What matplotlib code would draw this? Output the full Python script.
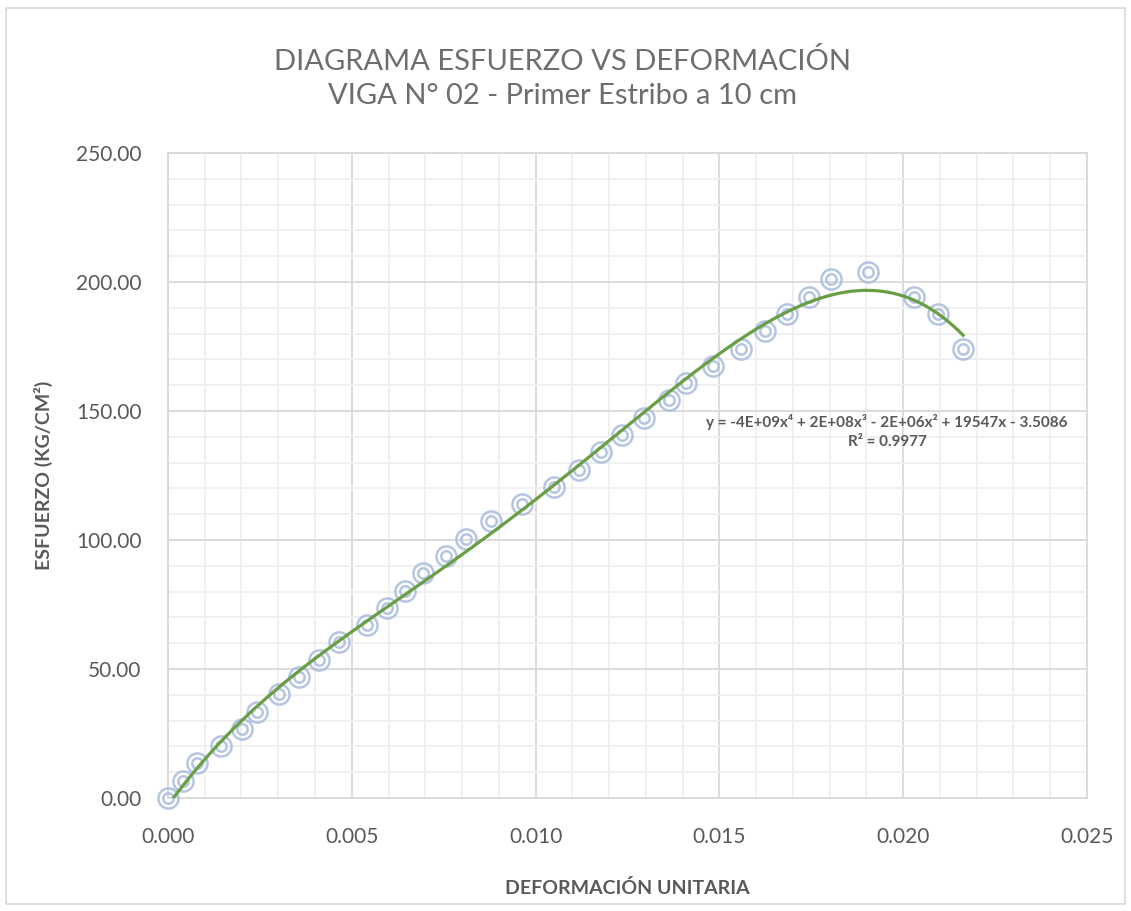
import numpy as np
import matplotlib
matplotlib.use('Agg')
import matplotlib.pyplot as plt
from matplotlib.patches import Rectangle
from matplotlib.ticker import MultipleLocator, FormatStrFormatter

plt.rcParams['font.family'] = ['Lato', 'DejaVu Sans']

# Datos (deformacion unitaria vs esfuerzo kg/cm2)
deformacion = [0.00000, 0.00041, 0.00080, 0.00143, 0.00202, 0.00243, 0.00302,
               0.00356, 0.00411, 0.00465, 0.00542, 0.00595, 0.00644, 0.00695,
               0.00755, 0.00810, 0.00878, 0.00964, 0.01049, 0.01117, 0.01177,
               0.01234, 0.01294, 0.01362, 0.01409, 0.01482, 0.01558, 0.01624,
               0.01683, 0.01743, 0.01803, 0.01904, 0.02029, 0.02094, 0.02163]
esfuerzo = [0.0, 6.7, 13.4, 20.1, 26.8, 33.5, 40.2, 46.9, 53.6, 60.3, 67.0,
            73.7, 80.4, 87.1, 93.8, 100.5, 107.2, 113.9, 120.6, 127.3, 134.0,
            140.7, 147.4, 154.1, 160.8, 167.5, 174.2, 180.9, 187.6, 194.3,
            201.0, 204.0, 194.3, 187.6, 174.2]

titulo = 'DIAGRAMA ESFUERZO VS DEFORMACIÓN\nVIGA N° 02 - Primer Estribo a 10 cm'
ecuacion = 'y = -4E+09x⁴ + 2E+08x³ - 2E+06x² + 19547x - 3.5086\nR² = 0.9977'

gris = '#595959'
azul = '#a9bbdd'
verde = '#6a9e45'

fig = plt.figure(figsize=(11.31, 9.11), dpi=100)
fig.patch.set_facecolor('white')
ax = fig.add_axes([0.1485, 0.1240, 0.8126, 0.7081])

# Linea de tendencia polinomica (grado 4), como en Excel
x = np.array(deformacion)
y = np.array(esfuerzo)
coef = np.polyfit(x, y, 4)
xs = np.linspace(x.min(), x.max(), 300)

ax.plot(x, y, linestyle='none', marker='o', ms=14.5, mfc='none', mec=azul, mew=1.8,
        alpha=0.85, zorder=3, clip_on=False)
ax.plot(x, y, linestyle='none', marker='o', ms=7.5, mfc='none', mec=azul, mew=1.8,
        alpha=0.85, zorder=3, clip_on=False)
ax.plot(xs, np.polyval(coef, xs), color=verde, lw=2.3, zorder=4)

ax.set_xlim(0, 0.025)
ax.set_ylim(0, 250)
ax.xaxis.set_major_locator(MultipleLocator(0.005))
ax.xaxis.set_minor_locator(MultipleLocator(0.001))
ax.yaxis.set_major_locator(MultipleLocator(50))
ax.yaxis.set_minor_locator(MultipleLocator(10))
ax.xaxis.set_major_formatter(FormatStrFormatter('%.3f'))
ax.yaxis.set_major_formatter(FormatStrFormatter('%.2f'))

ax.grid(which='major', color='#d9d9d9', lw=1.3, zorder=0)
ax.grid(which='minor', color='#efefef', lw=1.3, zorder=0)
ax.set_axisbelow(True)
for s in ax.spines.values():
    s.set_color('#d9d9d9')
    s.set_linewidth(1.3)

ax.tick_params(which='both', length=0, labelsize=15, colors=gris)
ax.tick_params(axis='x', pad=21)
ax.tick_params(axis='y', pad=19)

ax.set_xlabel('DEFORMACIÓN UNITARIA', fontsize=14, fontweight='bold', color=gris)
ax.set_ylabel('ESFUERZO (KG/CM²)', fontsize=14, fontweight='bold', color=gris)
ax.xaxis.set_label_coords(0.5, -0.126)
ax.yaxis.set_label_coords(-0.125, 0.5)

ax.text(0.01956, 142, ecuacion, ha='center', va='center', fontsize=11,
        fontweight='bold', color=gris, linespacing=1.4, zorder=5)

fig.text(0.497, 0.914, titulo, ha='center', va='center', fontsize=21,
         fontweight='normal', color='#6e6e6e', linespacing=1.35)

# borde exterior del grafico
fig.patches.append(Rectangle((6 / 1131, 1 - 904 / 911), 1119 / 1131, 896 / 911,
                             transform=fig.transFigure, fill=False,
                             edgecolor='#d9d9d9', lw=1.2))

fig.savefig('out.png', dpi=100)
